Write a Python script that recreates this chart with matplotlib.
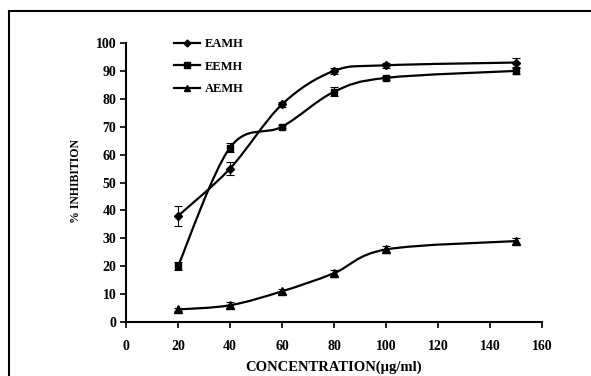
import numpy as np
import matplotlib
matplotlib.use("Agg")
import matplotlib.pyplot as plt
from matplotlib.path import Path
from matplotlib.patches import PathPatch
from matplotlib.lines import Line2D

conc = [20, 40, 60, 80, 100, 150]
eamh = [38, 55, 78, 90, 92, 93]
eamh_err = [3.5, 2.2, 1.0, 1.2, 1.0, 1.6]
eemh = [20, 62.5, 70, 82.5, 87.5, 90]
eemh_err = [1.5, 1.6, 0.6, 1.6, 0.6, 1.2]
aemh = [4.5, 6, 11, 17.5, 26, 29]
aemh_err = [0.5, 1.0, 1.0, 1.3, 1.3, 1.0]
series_names = ["EAMH", "EEMH", "AEMH"]
xticks = [0, 20, 40, 60, 80, 100, 120, 140, 160]
yticks = [0, 10, 20, 30, 40, 50, 60, 70, 80, 90, 100]

plt.rcParams['font.family'] = ['Liberation Serif', 'DejaVu Serif']
plt.rcParams['font.weight'] = 'bold'

fig = plt.figure(figsize=(5.91, 3.76), dpi=100)
ax = fig.add_axes([126/591, 54/376, 416/591, 279/376])


def smooth_path(xs, ys):
    pts = np.column_stack([xs, ys]).astype(float)
    n = len(pts)
    verts = [pts[0]]
    codes = [Path.MOVETO]
    for i in range(n - 1):
        p0 = pts[i - 1] if i > 0 else pts[i]
        p1 = pts[i]
        p2 = pts[i + 1]
        p3 = pts[i + 2] if i + 2 < n else pts[i + 1]
        c1 = p1 + (p2 - p0) / 6.0
        c2 = p2 - (p3 - p1) / 6.0
        verts += [c1, c2, p2]
        codes += [Path.CURVE4] * 3
    return Path(verts, codes)


data = [(eamh, eamh_err, 'D', 4), (eemh, eemh_err, 's', 4.5), (aemh, aemh_err, '^', 5.5)]
handles = []
for (ys, errs, mk, ms), name in zip(data, series_names):
    ax.add_patch(PathPatch(smooth_path(conc, ys), fill=False, lw=1.6, ec='black'))
    ax.errorbar(conc, ys, yerr=errs, fmt='none', ecolor='black', elinewidth=0.8,
                capsize=3, capthick=0.8, clip_on=False)
    ax.plot(conc, ys, linestyle='none', marker=mk, ms=ms, color='black', clip_on=False)
    handles.append(Line2D([], [], color='black', lw=1.6, marker=mk, ms=ms - 0.5, label=name))

ax.set_xlim(0, 160)
ax.set_ylim(0, 100)
ax.set_xticks(xticks)
ax.set_yticks(yticks)
for s in ['top', 'right']:
    ax.spines[s].set_visible(False)
for s in ['left', 'bottom']:
    ax.spines[s].set_linewidth(1.5)
ax.tick_params(axis='both', direction='out', length=4, width=1.2, labelsize=10)
ax.tick_params(axis='x', pad=9)
ax.tick_params(axis='y', pad=3)
for lab in ax.get_xticklabels() + ax.get_yticklabels():
    lab.set_fontweight('bold')

fig.text(334/591, 1 - 367/376, 'CONCENTRATION(µg/ml)', ha='center', va='center',
         fontsize=10.5, fontweight='bold')
fig.text(76/591, 1 - 181/376, '% INHIBITION', ha='center', va='center',
         rotation=90, fontsize=8.5, fontweight='bold')

leg = ax.legend(handles=handles, loc='upper left', bbox_to_anchor=(48/416, 1.018),
                frameon=False, fontsize=9, handlelength=2.1, handletextpad=0.4,
                labelspacing=0.85, borderaxespad=0, borderpad=0)
for t in leg.get_texts():
    t.set_fontweight('bold')

# outer frame (top and left edges)
fig.add_artist(Line2D([9/591, 1.0], [1 - 11/376, 1 - 11/376], transform=fig.transFigure,
                      color='black', lw=1.5))
fig.add_artist(Line2D([9/591, 9/591], [0, 1 - 11/376], transform=fig.transFigure,
                      color='black', lw=1.5))

fig.savefig('out.png', dpi=100)
